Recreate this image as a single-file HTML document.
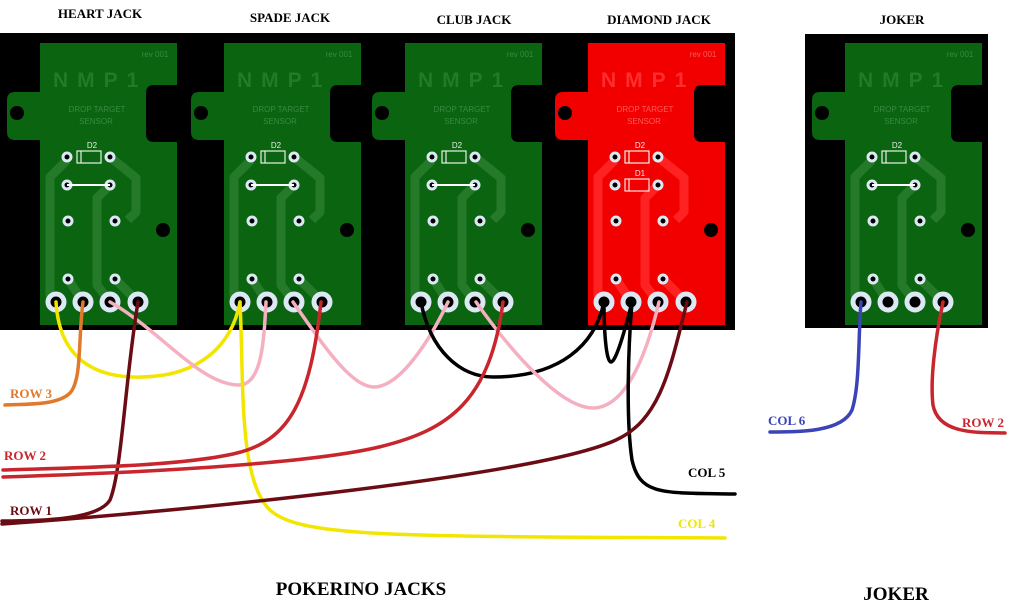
<!DOCTYPE html>
<html><head><meta charset="utf-8"><style>
html,body{margin:0;padding:0;background:#fff;width:1024px;height:615px;overflow:hidden}
svg{display:block}
.h{font-family:"Liberation Serif",serif;font-weight:bold;font-size:13px;fill:#000;text-anchor:middle}
.nm{font-family:"Liberation Sans",sans-serif;font-weight:bold;font-size:21px;letter-spacing:9px}
.sm{font-family:"Liberation Sans",sans-serif;font-size:8px;text-anchor:middle}
.lb{font-family:"Liberation Serif",serif;font-weight:bold;font-size:13px}
.w{fill:none;stroke-width:3.5;stroke-linecap:round}
</style></head><body>
<svg width="1024" height="615" viewBox="0 0 1024 615" xmlns="http://www.w3.org/2000/svg">
<defs>
<path id="outline" d="M40,43 H177 V85 H154 q-8,0 -8,8 V134 q0,8 8,8 H177 V325 H40 V140 H15 q-8,0 -8,-8 V100 q0,-8 8,-8 H40 Z"/>
<g id="tr" fill="none" stroke-width="9" stroke-linejoin="round">
<path d="M67,160 L50,177 V296 L56,302"/>
<path d="M110,185 L97,198 V285 L110,302"/>
<path d="M110,157 L136,178 V212 L128,220"/>
<path d="M115,279 L138,302"/>
<path d="M68,279 L83,302"/>
</g>
<g id="holes">
<circle cx="17" cy="113" r="7" fill="#000"/><circle cx="163" cy="230" r="7" fill="#000"/>
<g fill="#000" stroke="#dce8f4" stroke-width="3">
<circle cx="67" cy="157" r="4"/><circle cx="110" cy="157" r="4"/>
<circle cx="67" cy="185" r="4"/><circle cx="110" cy="185" r="4"/>
<circle cx="68" cy="221" r="4"/><circle cx="115" cy="221" r="4"/>
<circle cx="68" cy="279" r="4"/><circle cx="115" cy="279" r="4"/>
</g>
<g fill="#000" stroke="#dce8f4" stroke-width="5">
<circle cx="56" cy="302" r="8"/><circle cx="83" cy="302" r="8"/><circle cx="110" cy="302" r="8"/><circle cx="138" cy="302" r="8"/>
</g>
<rect x="77" y="151" width="24" height="12" fill="none" stroke="#e8f0e8" stroke-width="1.2"/>
<line x1="81" y1="151" x2="81" y2="163" stroke="#e8f0e8" stroke-width="1.2"/>
</g>
</defs>
<rect x="0" y="33" width="735" height="297" fill="#000"/>
<rect x="805" y="34" width="183" height="294" fill="#000"/>

<g>
<use href="#outline" fill="#0a6410"/>
<use href="#tr" stroke="#247a29"/>
<use href="#holes"/>
<line x1="67" y1="185" x2="110" y2="185" stroke="#fff" stroke-width="2"/>
<text x="53" y="87" class="nm" fill="#237a28">NMP1</text>
<text x="155" y="57" class="sm" fill="#3a8a40">rev 001</text>
<text x="97" y="112" class="sm" fill="#3a8a40">DROP TARGET</text>
<text x="96" y="124" class="sm" fill="#3a8a40">SENSOR</text>
<text x="92" y="148" class="sm" fill="#e8f0e8">D2</text>
</g>
<g transform="translate(184,0)">
<use href="#outline" fill="#0a6410"/><use href="#tr" stroke="#247a29"/><use href="#holes"/>
<line x1="67" y1="185" x2="110" y2="185" stroke="#fff" stroke-width="2"/>
<text x="53" y="87" class="nm" fill="#237a28">NMP1</text>
<text x="155" y="57" class="sm" fill="#3a8a40">rev 001</text>
<text x="97" y="112" class="sm" fill="#3a8a40">DROP TARGET</text>
<text x="96" y="124" class="sm" fill="#3a8a40">SENSOR</text>
<text x="92" y="148" class="sm" fill="#e8f0e8">D2</text>
</g>
<g transform="translate(365,0)">
<use href="#outline" fill="#0a6410"/><use href="#tr" stroke="#247a29"/><use href="#holes"/>
<line x1="67" y1="185" x2="110" y2="185" stroke="#fff" stroke-width="2"/>
<text x="53" y="87" class="nm" fill="#237a28">NMP1</text>
<text x="155" y="57" class="sm" fill="#3a8a40">rev 001</text>
<text x="97" y="112" class="sm" fill="#3a8a40">DROP TARGET</text>
<text x="96" y="124" class="sm" fill="#3a8a40">SENSOR</text>
<text x="92" y="148" class="sm" fill="#e8f0e8">D2</text>
</g>
<g transform="translate(548,0)">
<use href="#outline" fill="#f20000"/><use href="#tr" stroke="#ff2222"/><use href="#holes"/>
<rect x="77" y="179" width="24" height="12" fill="none" stroke="#ffe0e0" stroke-width="1.2"/>
<line x1="81" y1="179" x2="81" y2="191" stroke="#ffe0e0" stroke-width="1.2"/>
<text x="53" y="87" class="nm" fill="#ff2e2e">NMP1</text>
<text x="155" y="57" class="sm" fill="#ff5a5a">rev 001</text>
<text x="97" y="112" class="sm" fill="#ff5a5a">DROP TARGET</text>
<text x="96" y="124" class="sm" fill="#ff5a5a">SENSOR</text>
<text x="92" y="148" class="sm" fill="#ffe0e0">D2</text>
<text x="92" y="176" class="sm" fill="#ffe0e0">D1</text>
</g>
<g transform="translate(805,0)">
<use href="#outline" fill="#0a6410"/><use href="#tr" stroke="#247a29"/><use href="#holes"/>
<line x1="67" y1="185" x2="110" y2="185" stroke="#fff" stroke-width="2"/>
<text x="53" y="87" class="nm" fill="#237a28">NMP1</text>
<text x="155" y="57" class="sm" fill="#3a8a40">rev 001</text>
<text x="97" y="112" class="sm" fill="#3a8a40">DROP TARGET</text>
<text x="96" y="124" class="sm" fill="#3a8a40">SENSOR</text>
<text x="92" y="148" class="sm" fill="#e8f0e8">D2</text>
</g>

<text x="100" y="18" class="h">HEART JACK</text>
<text x="290" y="22" class="h">SPADE JACK</text>
<text x="474" y="24" class="h">CLUB JACK</text>
<text x="659" y="24" class="h">DIAMOND JACK</text>
<text x="902" y="24" class="h">JOKER</text>

<path class="w" stroke="#f2e600" d="M56,302 C60,370 110,378 142,377 C200,376 232,345 240,302"/>
<path class="w" stroke="#e07a2a" d="M83,302 C78,340 82,380 70,393 C58,405 30,404 5,405"/>
<path class="w" stroke="#f4b0c0" d="M110,302 C160,330 200,385 239,385 C262,385 264,340 266,302"/>
<path class="w" stroke="#6b0c14" d="M138,302 C125,380 122,470 110,500 C98,520 40,521 2,521"/>
<path class="w" stroke="#f2e600" d="M240,302 C244,380 238,480 270,510 C300,538 400,536 725,538"/>
<path class="w" stroke="#f4b0c0" d="M293,302 C320,340 350,387 374,387 C400,387 430,340 448,302"/>
<path class="w" stroke="#c8262c" d="M321,302 C310,400 290,440 237,453 C180,467 60,468 3,470"/>
<path class="w" stroke="#000" d="M421,302 C430,350 460,377 493,377 C560,377 595,345 604,302"/>
<path class="w" stroke="#f4b0c0" d="M476,302 C510,350 560,408 593,408 C630,408 650,340 659,302"/>
<path class="w" stroke="#c8262c" d="M503,302 C490,400 450,430 379,447 C300,466 100,474 3,477"/>
<path class="w" stroke="#000" d="M604,302 C604,330 606,362 611,362 C616,362 625,330 632,302 C628,350 626,420 632,460 C640,495 660,493 735,494"/>
<path class="w" stroke="#6b0c14" d="M687,302 C670,370 660,420 616,440 C540,475 200,510 2,524"/>
<path class="w" stroke="#3a44b8" d="M861,302 C858,340 860,385 852,410 C842,432 800,432 770,432"/>
<path class="w" stroke="#c8262c" d="M943,302 C935,340 930,380 933,405 C938,432 970,433 1005,433"/>

<text x="10" y="398" class="lb" fill="#e07a2a">ROW 3</text>
<text x="4" y="460" class="lb" fill="#c8262c">ROW 2</text>
<text x="10" y="515" class="lb" fill="#6b0c14">ROW 1</text>
<text x="688" y="477" class="lb" fill="#000">COL 5</text>
<text x="678" y="528" class="lb" fill="#f2e600">COL 4</text>
<text x="768" y="425" class="lb" fill="#3a44b8">COL 6</text>
<text x="962" y="427" class="lb" fill="#c8262c">ROW 2</text>
<text x="361" y="595" text-anchor="middle" font-family="Liberation Serif,serif" font-weight="bold" font-size="19">POKERINO JACKS</text>
<text x="896" y="600" text-anchor="middle" font-family="Liberation Serif,serif" font-weight="bold" font-size="19">JOKER</text>
</svg>
</body></html>
